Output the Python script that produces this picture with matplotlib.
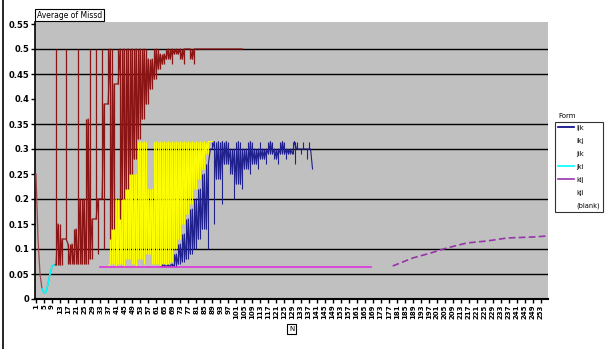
import numpy as np
import matplotlib
matplotlib.use("Agg")
import matplotlib.pyplot as plt
from matplotlib.lines import Line2D

# ---- data (x = category index of N) ----
n_values = list(range(1, 257))          # N categories on the x axis
y_ticks = [0, 0.05, 0.1, 0.15, 0.2, 0.25, 0.3, 0.35, 0.4, 0.45, 0.5, 0.55]
y_labels = ["0", "0.05", "0.1", "0.15", "0.2", "0.25", "0.3", "0.35", "0.4", "0.45", "0.5", "0.55"]
grid_vals = [0.05, 0.1, 0.2, 0.3, 0.35, 0.45, 0.5]

# dark red series, starts at index 0
red_start = 0
red_vals = [0.25, 0.12, 0.05, 0.02, 0.012, 0.014, 0.03, 0.05, 0.066, 0.068,
            0.5, 0.068, 0.15, 0.068, 0.12, 0.5, 0.07, 0.11, 0.07, 0.14,
            0.07, 0.5, 0.07, 0.2, 0.07, 0.36, 0.07, 0.5, 0.08, 0.16,
            0.5, 0.09, 0.2, 0.5, 0.1, 0.39, 0.5, 0.12, 0.5, 0.14,
            0.43, 0.5, 0.16, 0.5, 0.2, 0.5, 0.22, 0.5, 0.25, 0.5,
            0.28, 0.5, 0.32, 0.5, 0.36, 0.5, 0.39, 0.48, 0.42, 0.5,
            0.44, 0.5, 0.46, 0.49, 0.47, 0.5, 0.48, 0.5, 0.47, 0.5,
            0.49, 0.5, 0.48, 0.5, 0.47, 0.5, 0.5, 0.48, 0.5, 0.47,
            0.5, 0.5, 0.5, 0.5, 0.5, 0.5, 0.5, 0.5, 0.5, 0.5,
            0.5, 0.5, 0.5, 0.5, 0.5, 0.5, 0.5, 0.5, 0.5, 0.5,
            0.5, 0.5, 0.5, 0.5]

# yellow series
yel_start = 36
yel_vals = [0.065, 0.315, 0.07, 0.315, 0.065, 0.2, 0.07, 0.315, 0.065, 0.315,
            0.08, 0.315, 0.07, 0.25, 0.065, 0.315, 0.08, 0.315, 0.07, 0.315,
            0.09, 0.22, 0.07, 0.315, 0.07, 0.315, 0.065, 0.315, 0.07, 0.315,
            0.065, 0.315, 0.075, 0.315, 0.1, 0.315, 0.12, 0.315, 0.15, 0.315,
            0.17, 0.315, 0.19, 0.315, 0.22, 0.315, 0.24, 0.315, 0.26, 0.315,
            0.29, 0.315, 0.315]

# navy series (ijk)
ijk_start = 62
ijk_vals = [0.065, 0.07, 0.065, 0.068, 0.065, 0.07, 0.065, 0.09, 0.065, 0.11,
            0.07, 0.13, 0.075, 0.16, 0.08, 0.18, 0.09, 0.2, 0.1, 0.22,
            0.12, 0.25, 0.14, 0.27, 0.1, 0.3, 0.315, 0.15, 0.315, 0.24,
            0.315, 0.19, 0.315, 0.27, 0.315, 0.25, 0.3, 0.2, 0.315, 0.23,
            0.315, 0.22, 0.3, 0.26, 0.315, 0.25, 0.315, 0.27, 0.3, 0.26,
            0.315, 0.28, 0.3, 0.27, 0.315, 0.29, 0.315, 0.28, 0.3, 0.27,
            0.315, 0.29, 0.315, 0.28, 0.3, 0.29, 0.315, 0.27, 0.315, 0.3,
            0.29, 0.315, 0.3, 0.28, 0.315, 0.3, 0.26]

# cyan series (jki)
jki_n = [3, 4, 5, 6, 7, 8, 9]
jki_vals = [0.02, 0.012, 0.014, 0.03, 0.05, 0.066, 0.068]

# magenta flat series (kij) and its dashed continuation
kij_n = [32, 100, 167]
kij_vals = [0.064, 0.064, 0.064]
kij2_n = [178, 188, 197, 205, 215, 225, 235, 248, 255]
kij2_vals = [0.066, 0.082, 0.092, 0.102, 0.112, 0.116, 0.122, 0.124, 0.126]

legend_names = ["ijk", "ikj", "jik", "jki", "kij", "kji", "(blank)"]
legend_colors = ["#000080", "none", "none", "#00FFFF", "#9933AA", "none", "none"]


def spiky(ax, start, vals, color, lw, z):
    # the reference packs far more points per pixel, so every point is drawn
    # as a thin vertical spike off the local (median) level of its neighbours
    v = np.asarray(vals, dtype=float)
    x = np.arange(start, start + len(v))
    prev = np.r_[v[0], v[:-1]]
    nxt = np.r_[v[1:], v[-1]]
    level = np.median(np.vstack([prev, v, nxt]), axis=0)
    ax.plot(x, level, color=color, lw=lw, zorder=z)
    ax.vlines(x, level, v, color=color, lw=lw, zorder=z)


# ---- figure ----
fig = plt.figure(figsize=(6.05, 3.49), dpi=100)
ax = fig.add_axes([35 / 605, 1 - 299 / 349, 513 / 605, 277 / 349])
ax.set_facecolor("#C0C0C0")

for g in grid_vals:
    ax.axhline(g, color="black", lw=1.0, zorder=1)

spiky(ax, yel_start, yel_vals, "#FFFF00", 0.7, 2)
spiky(ax, ijk_start, ijk_vals, "#20208C", 0.8, 3)
ax.plot(range(red_start, red_start + 10), red_vals[:10], color="#A04848", lw=0.9, zorder=4)
spiky(ax, red_start + 9, red_vals[9:], "#8B1515", 0.9, 4)
ax.plot(kij_n, kij_vals, color="#DD33DD", lw=1.2, zorder=5)
ax.plot(kij2_n, kij2_vals, color="#9933AA", lw=1.2, ls=(0, (4, 2)), zorder=5)
ax.plot(jki_n, jki_vals, color="#00FFFF", lw=1.2, zorder=6)

ax.set_xlim(-0.5, len(n_values) - 0.5)
ax.set_ylim(0, 0.554)
ax.set_yticks(y_ticks)
ax.set_yticklabels(y_labels, fontsize=6, fontweight="bold")
tick_idx = list(range(0, len(n_values), 4))
ax.set_xticks(tick_idx)
ax.set_xticklabels([str(n_values[i]) for i in tick_idx], rotation=90,
                   fontsize=5, fontweight="bold")
ax.tick_params(axis="both", length=3, width=1, pad=1)
for s in ["top", "right"]:
    ax.spines[s].set_visible(False)
ax.spines["left"].set_linewidth(1.2)
ax.spines["bottom"].set_linewidth(1.5)

# pivot field buttons
btn = dict(boxstyle="square,pad=0.25", fc="white", ec="black", lw=0.8)
fig.text(37 / 605, 1 - 15 / 349, "Average of Missd", fontsize=5.5, va="center", bbox=btn)
fig.text(289 / 605, 1 - 329 / 349, "N", fontsize=5, va="center", bbox=btn)
fig.text(558 / 605, 1 - 116 / 349, "Form", fontsize=5, va="center")

handles = [Line2D([], [], color=c, lw=1.2) for c in legend_colors]
leg = fig.legend(handles, legend_names, loc="upper left",
                 bbox_to_anchor=(555 / 605, 1 - 122 / 349), fontsize=4.8,
                 frameon=True, fancybox=False, edgecolor="black",
                 handlelength=2.4, handletextpad=0.4, labelspacing=1.05,
                 borderpad=0.4, borderaxespad=0)
leg.get_frame().set_linewidth(0.8)

fig.add_artist(Line2D([3 / 605, 3 / 605], [0, 1], color="black", lw=1.2))

fig.savefig("out.png", dpi=100)
